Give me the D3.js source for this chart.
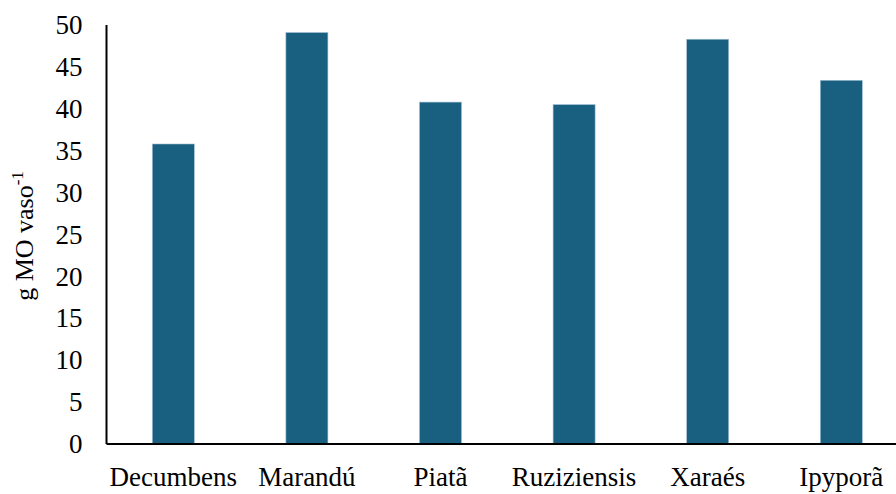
<!DOCTYPE html>
<html>
<head>
<meta charset="utf-8">
<script src="https://cdn.jsdelivr.net/npm/d3@7"></script>
</head>
<body style="margin:0">
<svg id="chart" width="896" height="494"></svg>
<script>
// Organic matter per pot for each Brachiaria cultivar
const cultivars = ["Decumbens", "Marandú", "Piatã", "Ruziziensis", "Xaraés", "Ipyporã"];
const moValues = [35.8, 49.1, 40.8, 40.5, 48.3, 43.4];
const yTicks = [0, 5, 10, 15, 20, 25, 30, 35, 40, 45, 50];

const svg = d3.select("#chart");
const plotLeft = 106.5, plotTop = 25, plotBottom = 444;
const step = 133.6;

const x = d3.scaleBand()
  .domain(cultivars)
  .range([plotLeft, plotLeft + step * cultivars.length])
  .padding(0);

const y = d3.scaleLinear().domain([0, 50]).range([plotBottom, plotTop]);

const barW = 42;

// bars
svg.append("g")
  .selectAll("rect")
  .data(cultivars)
  .join("rect")
  .attr("x", (d) => x(d) + x.bandwidth() / 2 - barW / 2)
  .attr("y", (d, i) => y(moValues[i]))
  .attr("width", barW)
  .attr("height", (d, i) => y(0) - y(moValues[i]))
  .attr("fill", "#185f80")
  .attr("stroke", "#9fbfd0")
  .attr("stroke-width", 0.6);

// axis lines
svg.append("line")
  .attr("x1", plotLeft).attr("x2", plotLeft)
  .attr("y1", y(50)).attr("y2", y(0))
  .attr("stroke", "#000").attr("stroke-width", 2);
svg.append("line")
  .attr("x1", plotLeft).attr("x2", 896)
  .attr("y1", plotBottom).attr("y2", plotBottom)
  .attr("stroke", "#000").attr("stroke-width", 2);

// y tick labels
svg.selectAll("text.ytick")
  .data(yTicks)
  .join("text")
  .attr("class", "ytick")
  .attr("x", plotLeft - 24)
  .attr("y", (d) => y(d))
  .attr("dy", "0.34em")
  .attr("text-anchor", "end")
  .attr("font-family", "Times New Roman")
  .style("font-family", "'Times New Roman'")
  .style("font-size", "27px")
  .text((d) => d);

// category labels
svg.selectAll("text.xlabel")
  .data(cultivars)
  .join("text")
  .attr("class", "xlabel")
  .attr("x", (d) => x(d) + x.bandwidth() / 2)
  .attr("y", plotBottom + 42)
  .attr("text-anchor", "middle")
  .attr("font-family", "Times New Roman")
  .style("font-family", "'Times New Roman'")
  .style("font-size", "27px")
  .text((d) => d);

// y axis title with superscript
const title = svg.append("text")
  .attr("transform", "translate(33,236) rotate(-90)")
  .attr("text-anchor", "middle")
  .attr("font-family", "Times New Roman")
  .style("font-family", "'Times New Roman'")
  .style("font-size", "26px");
title.append("tspan").text("g MO vaso");
title.append("tspan").attr("dy", -10).style("font-size", "17px").text("-1");
</script>
</body>
</html>
